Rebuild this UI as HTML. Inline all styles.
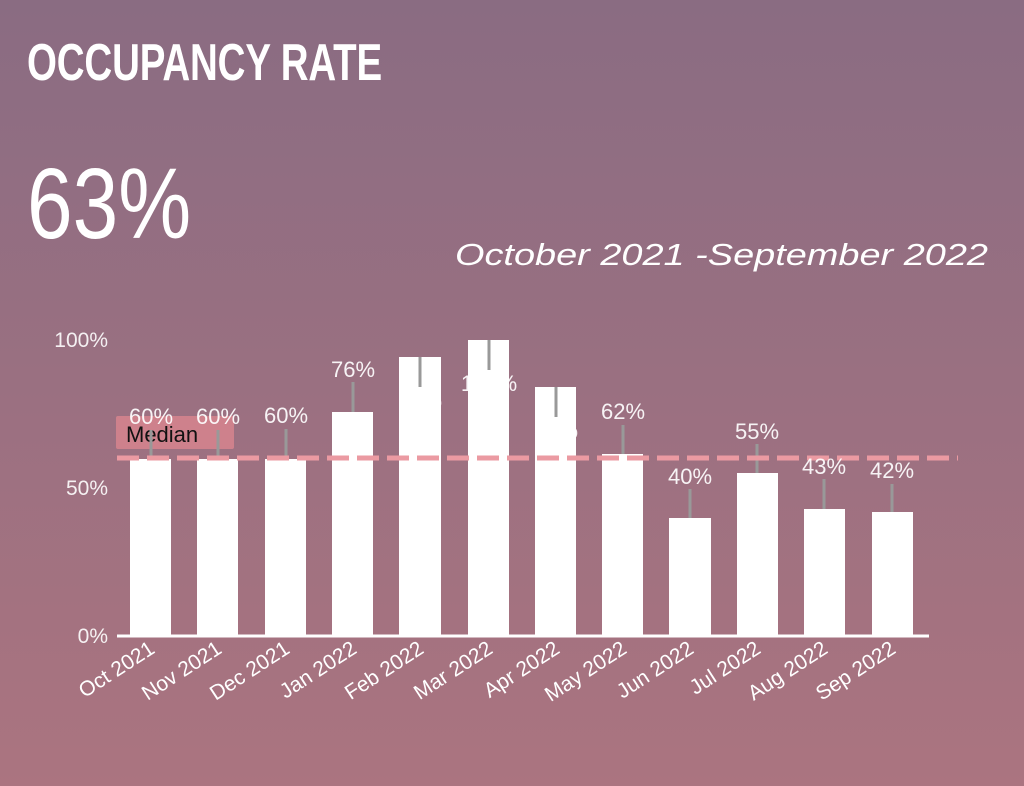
<!DOCTYPE html><html><head><style>body{margin:0}svg{display:block}</style></head><body>
<svg width="1024" height="786" xmlns="http://www.w3.org/2000/svg" font-family="Liberation Sans, sans-serif">
<defs><linearGradient id="g" x1="0" y1="0" x2="0" y2="1"><stop offset="0" stop-color="#8a6c82"/><stop offset="1" stop-color="#ab7480"/></linearGradient></defs>
<rect width="1024" height="786" fill="url(#g)"/>
<text x="27" y="80" fill="#fff" font-weight="bold" font-size="52" transform="translate(27 0) scale(0.74 1) translate(-27 0)" textLength="480">OCCUPANCY RATE</text>
<text x="27" y="238" fill="#fff" font-size="100" transform="translate(27 0) scale(0.82 1) translate(-27 0)">63%</text>
<text x="988" y="265" fill="#fff" font-size="31" font-style="italic" text-anchor="end" textLength="533" lengthAdjust="spacingAndGlyphs">October 2021 -September 2022</text>
<g fill="#fff" font-size="21" text-anchor="end" opacity="0.9">
<text x="108" y="347">100%</text><text x="108" y="495">50%</text><text x="108" y="643">0%</text></g>
<g fill="#fff">
<rect x="130" y="459" width="41" height="177"/><rect x="197" y="459" width="41" height="177"/><rect x="265" y="459" width="41" height="177"/>
<rect x="332" y="412" width="41" height="224"/><rect x="399" y="357" width="42" height="279"/><rect x="468" y="340" width="41" height="296"/>
<rect x="535" y="387" width="41" height="249"/><rect x="602" y="454" width="41" height="182"/><rect x="669" y="518" width="42" height="118"/>
<rect x="737" y="473" width="41" height="163"/><rect x="804" y="509" width="41" height="127"/><rect x="872" y="512" width="41" height="124"/>
</g>
<rect x="116" y="416" width="118" height="33" rx="2" fill="#d4838d" opacity="0.9"/>
<text x="126" y="442" font-size="22" fill="#111">Median</text>
<g stroke="#999" stroke-width="3">
<line x1="151" y1="430" x2="151" y2="459"/><line x1="218" y1="430" x2="218" y2="459"/><line x1="286" y1="429" x2="286" y2="459"/>
<line x1="353" y1="382" x2="353" y2="412"/><line x1="420" y1="357" x2="420" y2="387"/><line x1="489" y1="340" x2="489" y2="370"/>
<line x1="556" y1="387" x2="556" y2="417"/><line x1="623" y1="425" x2="623" y2="454"/><line x1="690" y1="489" x2="690" y2="518"/>
<line x1="757" y1="444" x2="757" y2="473"/><line x1="824" y1="479" x2="824" y2="509"/><line x1="892" y1="484" x2="892" y2="512"/>
</g>
<line x1="117" y1="458" x2="958" y2="458" stroke="#eb9aa2" stroke-width="5" stroke-dasharray="22 8"/>
<g fill="#fff" font-size="22" text-anchor="middle" opacity="0.92">
<text x="151" y="424">60%</text><text x="218" y="424">60%</text><text x="286" y="423">60%</text><text x="353" y="377">76%</text>
<text x="420" y="408">94%</text><text x="489" y="391">100%</text><text x="556" y="438">84%</text><text x="623" y="419">62%</text>
<text x="690" y="484">40%</text><text x="757" y="439">55%</text><text x="824" y="474">43%</text><text x="892" y="478">42%</text>
</g>
<line x1="117" y1="636" x2="929" y2="636" stroke="#fff" stroke-width="3"/>
<g fill="#fff" font-size="21" text-anchor="end">
<text transform="translate(156 652) rotate(-33)">Oct 2021</text><text transform="translate(223 652) rotate(-33)">Nov 2021</text>
<text transform="translate(291 652) rotate(-33)">Dec 2021</text><text transform="translate(358 652) rotate(-33)">Jan 2022</text>
<text transform="translate(425 652) rotate(-33)">Feb 2022</text><text transform="translate(494 652) rotate(-33)">Mar 2022</text>
<text transform="translate(561 652) rotate(-33)">Apr 2022</text><text transform="translate(628 652) rotate(-33)">May 2022</text>
<text transform="translate(695 652) rotate(-33)">Jun 2022</text><text transform="translate(762 652) rotate(-33)">Jul 2022</text>
<text transform="translate(829 652) rotate(-33)">Aug 2022</text><text transform="translate(897 652) rotate(-33)">Sep 2022</text>
</g>
</svg></body></html>
